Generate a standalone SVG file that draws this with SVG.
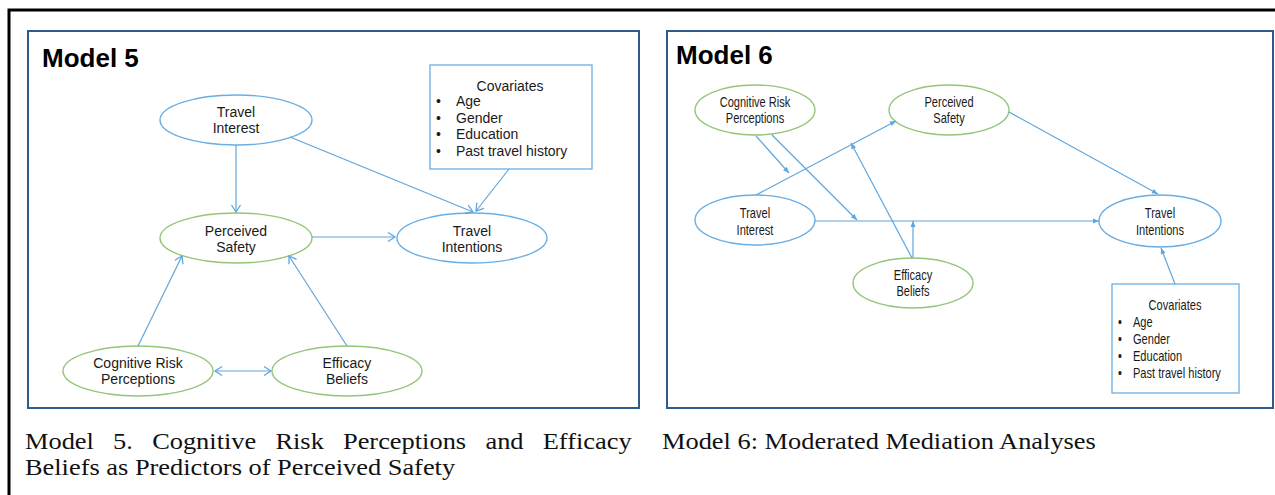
<svg xmlns="http://www.w3.org/2000/svg" width="1275" height="495" viewBox="0 0 1275 495">
<defs>
<marker id="arrOpen" markerUnits="userSpaceOnUse" markerWidth="12" markerHeight="12" viewBox="0 0 12 12" refX="10" refY="6" orient="auto-start-reverse">
<path d="M3,1.5 L10,6 L3,10.5" fill="none" stroke="#5ea6de" stroke-width="1.3"/>
</marker>
<marker id="arrSmall" markerUnits="userSpaceOnUse" markerWidth="8" markerHeight="8" viewBox="0 0 8 8" refX="7" refY="4" orient="auto">
<path d="M1,1.5 L7,4 L1,6.5 Z" fill="#5ea6de" stroke="none"/>
</marker>
</defs>
<style>
.panel{fill:#fff;stroke:#2f5b8c;stroke-width:2}
.blue{fill:#fff;stroke:#6aaee3;stroke-width:1.4}
.green{fill:#fff;stroke:#93c57a;stroke-width:1.4}
.cov{fill:#fff;stroke:#6aaee3;stroke-width:1.3}
.lbl{font-family:"Liberation Sans",Arial,sans-serif;font-size:14px;fill:#1a1a1a;text-anchor:middle}
.item{font-family:"Liberation Sans",Arial,sans-serif;font-size:14px;fill:#1a1a1a}
.title{font-family:"Liberation Sans",Arial,sans-serif;font-size:26px;font-weight:bold;fill:#000}
.cap{font-family:"Liberation Serif","Times New Roman",serif;font-size:24px;fill:#111}
.c5 path{fill:none;stroke:#5ea6de;stroke-width:1.2;marker-end:url(#arrOpen)}
.c6 path{fill:none;stroke:#5ea6de;stroke-width:1.2;marker-end:url(#arrSmall)}
</style>
<rect width="1275" height="495" fill="#fff"/>
<path d="M9,495 V10 H1275" fill="none" stroke="#000" stroke-width="3"/>

<!-- Model 5 -->
<g id="panel5">
<rect class="panel" x="28" y="31" width="611" height="377"/>
<text class="title" x="42" y="67">Model 5</text>
</g>
<g id="m5-covariates">
<rect class="cov" x="430" y="65" width="162" height="104"/>
<text class="lbl" x="510" y="91">Covariates</text>
<text class="item" x="436" y="106">•</text><text class="item" x="456" y="106">Age</text>
<text class="item" x="436" y="123">•</text><text class="item" x="456" y="123">Gender</text>
<text class="item" x="436" y="139">•</text><text class="item" x="456" y="139">Education</text>
<text class="item" x="436" y="156">•</text><text class="item" x="456" y="156">Past travel history</text>
</g>
<g id="m5-travel-interest">
<ellipse class="blue" cx="236" cy="120" rx="76" ry="25"/>
<text class="lbl" x="236" y="117">Travel</text>
<text class="lbl" x="236" y="133">Interest</text>
</g>
<g id="m5-perceived-safety">
<ellipse class="green" cx="236" cy="238" rx="76" ry="25"/>
<text class="lbl" x="236" y="236">Perceived</text>
<text class="lbl" x="236" y="252">Safety</text>
</g>
<g id="m5-travel-intentions">
<ellipse class="blue" cx="472" cy="238" rx="75" ry="25"/>
<text class="lbl" x="472" y="236">Travel</text>
<text class="lbl" x="472" y="252">Intentions</text>
</g>
<g id="m5-cognitive-risk">
<ellipse class="green" cx="138" cy="371" rx="75" ry="25"/>
<text class="lbl" x="138" y="368">Cognitive Risk</text>
<text class="lbl" x="138" y="384">Perceptions</text>
</g>
<g id="m5-efficacy">
<ellipse class="green" cx="347" cy="371" rx="75" ry="25"/>
<text class="lbl" x="347" y="368">Efficacy</text>
<text class="lbl" x="347" y="384">Beliefs</text>
</g>
<g id="m5-connectors" class="c5">
<path d="M236,145 L236,212"/>
<path d="M290,137 L473,212"/>
<path d="M509,169 L476,211"/>
<path d="M312,237 L395,237"/>
<path d="M138,346 L182,256"/>
<path d="M347,346 L289,256"/>
<path d="M215,371 L271,371" marker-start="url(#arrOpen)"/>
</g>

<!-- Model 6 -->
<g id="panel6">
<rect class="panel" x="667" y="31" width="606" height="377"/>
<text class="title" x="676" y="64">Model 6</text>
</g>
<g id="m6-cognitive-risk">
<ellipse class="green" cx="755" cy="110" rx="60" ry="25"/>
<text class="lbl" transform="translate(755 0) scale(0.79 1)" x="0" y="107">Cognitive Risk</text>
<text class="lbl" transform="translate(755 0) scale(0.79 1)" x="0" y="123">Perceptions</text>
</g>
<g id="m6-perceived-safety">
<ellipse class="green" cx="949" cy="110" rx="60" ry="25"/>
<text class="lbl" transform="translate(949 0) scale(0.79 1)" x="0" y="107">Perceived</text>
<text class="lbl" transform="translate(949 0) scale(0.79 1)" x="0" y="123">Safety</text>
</g>
<g id="m6-travel-interest">
<ellipse class="blue" cx="755" cy="220" rx="60" ry="25"/>
<text class="lbl" transform="translate(755 0) scale(0.79 1)" x="0" y="218">Travel</text>
<text class="lbl" transform="translate(755 0) scale(0.79 1)" x="0" y="235">Interest</text>
</g>
<g id="m6-travel-intentions">
<ellipse class="blue" cx="1160" cy="221" rx="61" ry="26"/>
<text class="lbl" transform="translate(1160 0) scale(0.79 1)" x="0" y="218">Travel</text>
<text class="lbl" transform="translate(1160 0) scale(0.79 1)" x="0" y="235">Intentions</text>
</g>
<g id="m6-efficacy">
<ellipse class="green" cx="913" cy="283" rx="60" ry="25"/>
<text class="lbl" transform="translate(913 0) scale(0.79 1)" x="0" y="280">Efficacy</text>
<text class="lbl" transform="translate(913 0) scale(0.79 1)" x="0" y="296">Beliefs</text>
</g>
<g id="m6-covariates">
<rect class="cov" x="1112" y="284" width="127" height="109"/>
<text class="lbl" transform="translate(1175 0) scale(0.79 1)" x="0" y="310">Covariates</text>
<g transform="translate(1118 0) scale(0.79 1)">
<text class="item" x="0" y="327">•</text><text class="item" x="19" y="327">Age</text>
<text class="item" x="0" y="344">•</text><text class="item" x="19" y="344">Gender</text>
<text class="item" x="0" y="361">•</text><text class="item" x="19" y="361">Education</text>
<text class="item" x="0" y="378">•</text><text class="item" x="19" y="378">Past travel history</text>
</g>
</g>
<g id="m6-connectors" class="c6">
<path d="M756,195 L896,121" stroke-width="1.6"/>
<path d="M756,136 L789,173"/>
<path d="M772,135 L857,220"/>
<path d="M912,258 L851,143"/>
<path d="M913,258 L913,221" stroke-width="1.6"/>
<path d="M815,221 L1099,221" stroke-width="2"/>
<path d="M1009,112 L1158,194"/>
<path d="M1175,284 L1161,248"/>
</g>

<!-- Captions -->
<g id="captions" class="cap">
<g transform="scale(1.1 1)">
<text y="449"><tspan x="22.7">Model</tspan><tspan x="102.8">5.</tspan><tspan x="138.3">Cognitive</tspan><tspan x="250.4">Risk</tspan><tspan x="311.8">Perceptions</tspan><tspan x="441.3">and</tspan><tspan x="493.4">Efficacy</tspan></text>
<text x="22.7" y="475">Beliefs as Predictors of Perceived Safety</text>
<text x="601.8" y="449">Model 6: Moderated Mediation Analyses</text>
</g>
</g>
</svg>
